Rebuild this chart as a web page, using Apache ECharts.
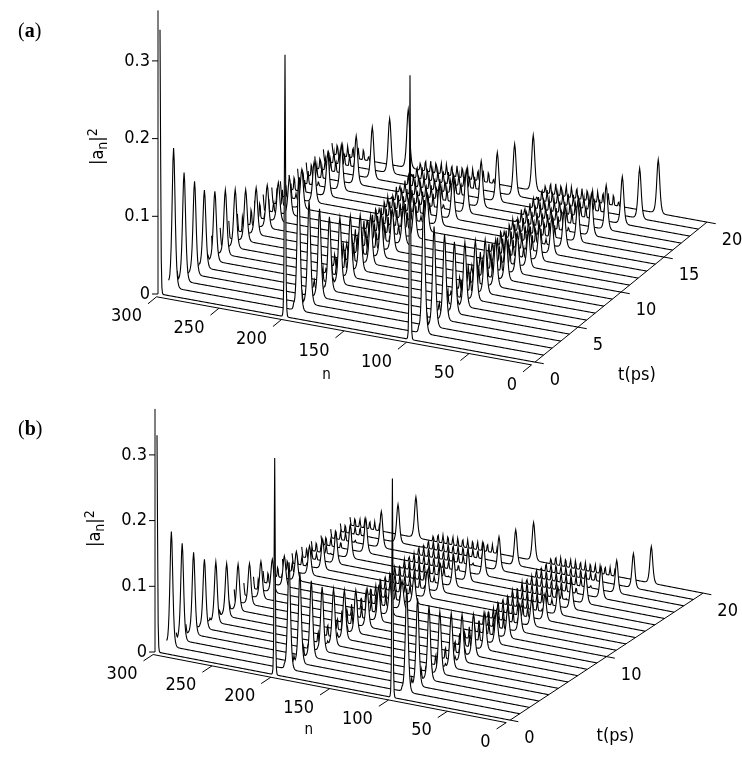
<!DOCTYPE html>
<html>
<head>
<meta charset="utf-8">
<script src="https://cdn.jsdelivr.net/npm/echarts@6/dist/echarts.min.js"></script>
<style>html,body{margin:0;padding:0;background:#fff}#chart{width:742px;height:784px}</style>
</head>
<body>
<div id="chart"></div>
<script>
// time slices (ps) drawn as waterfall lines
const tSteps = [0,1,2,3,4,5,6,7,8,9,10,11,12,13,14,15,16,17,18,19,20];
// initial excitation sites and the t=0 spike heights
const sites = [300, 200, 100];
const spikeA = [0.34, 0.337, 0.34];
const spikeB = [0.33, 0.33, 0.333];
// drift of the main pulse away from its site (in n) per time slice
const shiftA = [0,1,2.5,4,5,6.5,8,9,10.5,12,14,16,18,21,24,28,32,37,43,50,58];
const shiftB = [0,1,2,3.5,4.5,6,7,8.5,10,11.5,13,15,17,20,23,26,30,35,40,46,53];
// main pulse height per time slice
const heightA = [0,0.18,0.14,0.12,0.10,0.09,0.083,0.075,0.066,0.06,0.055,0.05,0.048,0.05,0.052,0.055,0.058,0.062,0.066,0.07,0.075];
const heightB = [0,0.175,0.148,0.125,0.105,0.092,0.08,0.07,0.062,0.056,0.05,0.046,0.044,0.044,0.045,0.047,0.05,0.052,0.055,0.058,0.062];
// scale of the pulse for each site
const siteScaleA = [1, 0.95, 0.92];
const siteScaleB = [1, 0.93, 0.9];
// amplitude of the radiated ripples around each site
const rippleA = [0,0.01,0.014,0.017,0.019,0.02,0.021,0.022,0.022,0.022,0.022,0.021,0.02,0.02,0.019,0.018,0.017,0.016,0.015,0.015,0.014];
const rippleB = [0,0.008,0.012,0.014,0.016,0.017,0.018,0.018,0.018,0.018,0.018,0.017,0.016,0.016,0.015,0.015,0.014,0.013,0.013,0.012,0.012];
// tick labels
const nTicks = [300,250,200,150,100,50,0];
const zTicks = [0,0.1,0.2,0.3];
const tTicksA = [0,5,10,15,20];
const tTicksB = [0,10,20];

const panels = [
  {O:[160,294], nd:[1.25,0.227], td:[8.6,-7.0], zs:777, zTop:0.365,
   spike:spikeA, shift:shiftA, height:heightA, scale:siteScaleA, ripple:rippleA, tTicks:tTicksA,
   tag:'a', tagPos:[18,32]},
  {O:[157,652], nd:[1.177,0.227], td:[9.65,-6.35], zs:657, zTop:0.37,
   spike:spikeB, shift:shiftB, height:heightB, scale:siteScaleB, ripple:rippleB, tTicks:tTicksB,
   tag:'b', tagPos:[18,430]}
];

function proj(p, n, t, z) {
  const a = 300 - n;
  return [p.O[0] + a*p.nd[0] + t*p.td[0], p.O[1] + a*p.nd[1] + t*p.td[1] - z*p.zs];
}
function sech2(x){ const c = Math.cosh(x); return 1/(c*c); }

function amp(p, k, n) {
  let v = 0;
  sites.forEach((n0, s) => {
    if (k === 0) { v += p.spike[s]*sech2((n-n0)/0.6); return; }
    const c = n0 - 3 - p.shift[k];
    v += p.height[k]*p.scale[s]*sech2((n-c)/1.6);
    // ripples spreading from the site
    const lo = n0 - 2 - 0.5*p.shift[k], hi = n0 + 1.6*k;
    if (n > lo && n < hi) {
      const w = Math.pow(0.5 + 0.5*Math.cos(2*Math.PI*(n-n0)/4.2), 6);
      const edge = Math.min(1, (n-lo)/4, (hi-n)/4);
      v += p.ripple[k]*w*edge;
    }
  });
  return v;
}

const FONT = '"DejaVu Sans Condensed","Liberation Sans Narrow","Liberation Sans",Arial,sans-serif';

function curveSeries(pi) {
  const p = panels[pi];
  const data = tSteps.map((t,k)=>[k]).reverse();
  return {
    type:'custom', coordinateSystem:'cartesian2d', silent:true, clip:false,
    data: data,
    renderItem: function(params, api) {
      const k = api.value(0), t = tSteps[k];
      const pts = [];
      for (let n = 300; n >= 0; n -= 0.5) pts.push(api.coord(proj(p, n, t, amp(p,k,n))));
      const poly = pts.concat([api.coord(proj(p,0,t,0)), api.coord(proj(p,300,t,0))]);
      return {type:'group', children:[
        {type:'polygon', shape:{points:poly}, style:{fill:'#fff', stroke:null}},
        {type:'polyline', shape:{points:pts}, style:{fill:null, stroke:'#000', lineWidth:1.1}}
      ]};
    }
  };
}

function axisSeries(pi) {
  const p = panels[pi];
  return {
    type:'custom', coordinateSystem:'cartesian2d', silent:true, clip:false,
    data:[[0]], z:5,
    renderItem: function(params, api) {
      const ch = [];
      const L = (a,b)=>ch.push({type:'line', shape:{x1:a[0],y1:a[1],x2:b[0],y2:b[1]}, style:{stroke:'#000', lineWidth:1}});
      const T = (pos,text,align,vAlign,size)=>ch.push({type:'text', x:pos[0], y:pos[1],
        style:{text:text, font:(size||18)+'px '+FONT, fill:'#000', align:align, verticalAlign:vAlign}});
      const c = (n,t,z)=>api.coord(proj(p,n,t,z));
      // z axis
      const z0 = c(300,0,0), zt = c(300,0,p.zTop);
      L([z0[0]-2,z0[1]], [zt[0]-2,zt[1]]);
      zTicks.forEach(z=>{
        const q = c(300,0,z);
        L([q[0]-8,q[1]], [q[0]-2,q[1]]);
        T([q[0]-10,q[1]], String(z), 'right', 'middle');
      });
      // n axis ticks + labels
      L(c(300,-0.4,0), c(0,-0.4,0));
      nTicks.forEach(n=>{
        const a = c(n,-0.4,0), b = c(n,-1.4,0);
        L(a,b);
        T([b[0]-6, b[1]+4], String(n), 'right', 'top');
      });
      // t axis ticks + labels
      L(c(0,0,0), c(0,20,0));
      p.tTicks.forEach(t=>{
        const a = c(0,t,0), b = c(-7,t,0);
        L(a,b);
        T([b[0]+6, b[1]+8], String(t), 'left', 'top');
      });
      const nl = c(150,-3.6,0);
      T([nl[0]+10, nl[1]+14], 'n', 'center', 'top', 15);
      const tl = c(-10,4,0);
      T([tl[0]+55, tl[1]+30], 't(ps)', 'center', 'top');
      // z label |a_n|^2
      const zl = c(300,0,0.2);
      ch.push({type:'text', x:zl[0]-62, y:zl[1]+8, rotation:Math.PI/2,
        style:{text:'|a{s|n}|{u|2}', font:'18px '+FONT, fill:'#000', align:'center', verticalAlign:'middle',
          rich:{s:{font:'14px '+FONT, padding:[10,0,0,0]}, u:{font:'14px '+FONT, padding:[0,0,10,0]}}}});
      // panel tag
      ch.push({type:'text', x:p.tagPos[0], y:p.tagPos[1],
        style:{text:'({b|'+p.tag+'})', font:'20px "Liberation Serif",serif', fill:'#000', align:'left', verticalAlign:'middle',
          rich:{b:{font:'bold 20px "Liberation Serif",serif'}}}});
      return {type:'group', children:ch};
    }
  };
}

const chart = echarts.init(document.getElementById('chart'));
chart.setOption({
  animation:false,
  backgroundColor:'#fff',
  grid:{left:0, right:0, top:0, bottom:0},
  xAxis:{type:'value', min:0, max:742, show:false},
  yAxis:{type:'value', min:0, max:784, inverse:true, show:false},
  series:[curveSeries(0), axisSeries(0), curveSeries(1), axisSeries(1)]
});
</script>
</body>
</html>
